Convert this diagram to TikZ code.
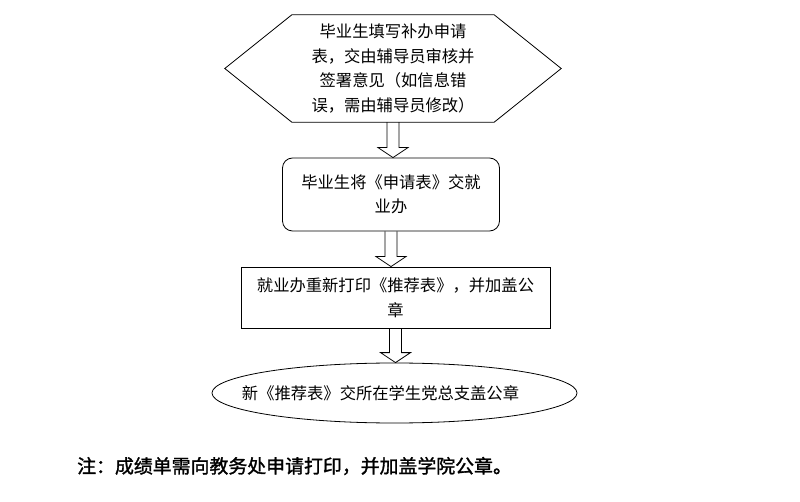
\documentclass[tikz,border=0pt]{standalone}
\usepackage{fontspec}
\newfontfamily\cjk{Noto Sans CJK SC}
\newfontfamily\cjkbold[FakeBold=1.5]{Noto Sans CJK SC}
\usetikzlibrary{calc,shapes.geometric}

\newcommand{\blockarrow}[2]{%
  \draw[arrowbody] let \p1=(#1.south), \p2=(#2.north) in
    ({\x1-6pt},\y1) -- ({\x1-6pt},{\y2+10pt}) -- ({\x1-15pt},{\y2+10pt}) -- (\x1,\y2)
    -- ({\x1+15pt},{\y2+10pt}) -- ({\x1+6pt},{\y2+10pt}) -- ({\x1+6pt},\y1);}

\begin{document}
\begin{tikzpicture}[x=1pt, y=-1pt, font=\cjk\fontsize{16.3}{24.5}\selectfont,
        every node/.style={inner sep=0pt, align=center},
        arrowbody/.style={draw, line width=0.8pt},
        stepbox/.style={draw, line width=0.8pt}]
        \useasboundingbox (0,0) rectangle (800,502);
        \node[minimum width=202pt, minimum height=107pt] (apply) at (393,68.5)
          {毕业生填写补办申请\\表，交由辅导员审核并\\签署意见（如信息错\\误，需由辅导员修改）};
        \draw[line width=0.8pt] (apply.north west) -- (apply.north east) -- ([xshift=67pt]apply.east)
          -- (apply.south east) -- (apply.south west) -- ([xshift=-67pt]apply.west) -- cycle;
        \node[stepbox, rounded corners=10pt, minimum width=217pt, minimum height=73pt] (submit) at (391,194.5)
          {毕业生将《申请表》交就\\业办};
        \node[stepbox, minimum width=309pt, minimum height=61pt] (reprint) at (395.5,297.5)
          {就业办重新打印《推荐表》，并加盖公\\章};
        \node[stepbox, ellipse, minimum width=365pt, minimum height=60pt,
          label={[xshift=-14pt]center:新《推荐表》交所在学生党总支盖公章}] (stamp) at (394.5,393) {};
        \blockarrow{apply}{submit}
        \blockarrow{submit}{reprint}
        \blockarrow{reprint}{stamp}
        \node[anchor=west, font=\cjkbold\fontsize{18.9}{22}\selectfont] (note) at (77,466)
          {注：成绩单需向教务处申请打印，并加盖学院公章。};
\end{tikzpicture}
\end{document}
